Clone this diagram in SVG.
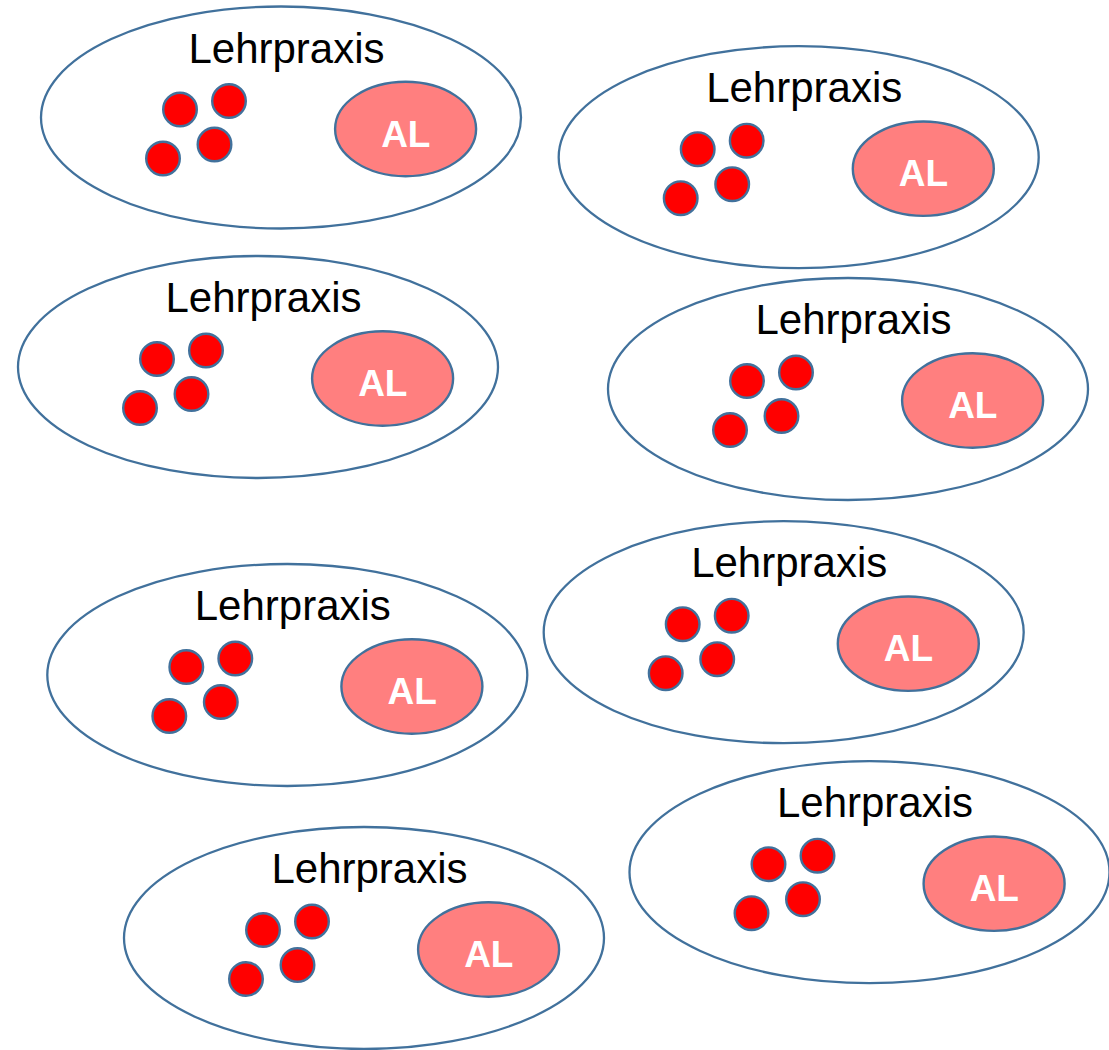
<svg xmlns="http://www.w3.org/2000/svg" width="1109" height="1050" viewBox="0 0 1109 1050">
<style>
.outer{fill:#FFFFFF;stroke:#41719C;stroke-width:2.3}
.dot{fill:#FF0000;stroke:#41719C;stroke-width:2.4}
.al{fill:#FF7F7F;stroke:#41719C;stroke-width:2.4}
.lbl{font-family:"Liberation Sans",Arial,sans-serif;font-size:42px;fill:#000000;text-anchor:middle}
.alt{font-family:"Liberation Sans",Arial,sans-serif;font-size:37px;font-weight:bold;fill:#FFFFFF;text-anchor:middle}
</style>
<rect width="1109" height="1050" fill="#FFFFFF"/>
<g id="connectors"></g>
<g id="node1" transform="translate(281,117.5)">
<ellipse class="outer" cx="0" cy="0" rx="240" ry="111"/>
<text class="lbl" x="5.5" y="-55">Lehrpraxis</text>
<circle class="dot" cx="-101" cy="-8" r="16.8"/>
<circle class="dot" cx="-52" cy="-16.5" r="16.8"/>
<circle class="dot" cx="-66.5" cy="27" r="16.8"/>
<circle class="dot" cx="-118" cy="41" r="16.8"/>
<ellipse class="al" cx="124.6" cy="11.5" rx="70.5" ry="47.2"/>
<text class="alt" x="124.8" y="29">AL</text>
</g>
<g id="node2" transform="translate(798.7,157.2)">
<ellipse class="outer" cx="0" cy="0" rx="240" ry="111"/>
<text class="lbl" x="5.5" y="-55">Lehrpraxis</text>
<circle class="dot" cx="-101" cy="-8" r="16.8"/>
<circle class="dot" cx="-52" cy="-16.5" r="16.8"/>
<circle class="dot" cx="-66.5" cy="27" r="16.8"/>
<circle class="dot" cx="-118" cy="41" r="16.8"/>
<ellipse class="al" cx="124.6" cy="11.5" rx="70.5" ry="47.2"/>
<text class="alt" x="124.8" y="29">AL</text>
</g>
<g id="node3" transform="translate(258,367)">
<ellipse class="outer" cx="0" cy="0" rx="240" ry="111"/>
<text class="lbl" x="5.5" y="-55">Lehrpraxis</text>
<circle class="dot" cx="-101" cy="-8" r="16.8"/>
<circle class="dot" cx="-52" cy="-16.5" r="16.8"/>
<circle class="dot" cx="-66.5" cy="27" r="16.8"/>
<circle class="dot" cx="-118" cy="41" r="16.8"/>
<ellipse class="al" cx="124.6" cy="11.5" rx="70.5" ry="47.2"/>
<text class="alt" x="124.8" y="29">AL</text>
</g>
<g id="node4" transform="translate(848,389)">
<ellipse class="outer" cx="0" cy="0" rx="240" ry="111"/>
<text class="lbl" x="5.5" y="-55">Lehrpraxis</text>
<circle class="dot" cx="-101" cy="-8" r="16.8"/>
<circle class="dot" cx="-52" cy="-16.5" r="16.8"/>
<circle class="dot" cx="-66.5" cy="27" r="16.8"/>
<circle class="dot" cx="-118" cy="41" r="16.8"/>
<ellipse class="al" cx="124.6" cy="11.5" rx="70.5" ry="47.2"/>
<text class="alt" x="124.8" y="29">AL</text>
</g>
<g id="node5" transform="translate(287.3,675)">
<ellipse class="outer" cx="0" cy="0" rx="240" ry="111"/>
<text class="lbl" x="5.5" y="-55">Lehrpraxis</text>
<circle class="dot" cx="-101" cy="-8" r="16.8"/>
<circle class="dot" cx="-52" cy="-16.5" r="16.8"/>
<circle class="dot" cx="-66.5" cy="27" r="16.8"/>
<circle class="dot" cx="-118" cy="41" r="16.8"/>
<ellipse class="al" cx="124.6" cy="11.5" rx="70.5" ry="47.2"/>
<text class="alt" x="124.8" y="29">AL</text>
</g>
<g id="node6" transform="translate(783.7,632.2)">
<ellipse class="outer" cx="0" cy="0" rx="240" ry="111"/>
<text class="lbl" x="5.5" y="-55">Lehrpraxis</text>
<circle class="dot" cx="-101" cy="-8" r="16.8"/>
<circle class="dot" cx="-52" cy="-16.5" r="16.8"/>
<circle class="dot" cx="-66.5" cy="27" r="16.8"/>
<circle class="dot" cx="-118" cy="41" r="16.8"/>
<ellipse class="al" cx="124.6" cy="11.5" rx="70.5" ry="47.2"/>
<text class="alt" x="124.8" y="29">AL</text>
</g>
<g id="node7" transform="translate(869.5,872.2)">
<ellipse class="outer" cx="0" cy="0" rx="240" ry="111"/>
<text class="lbl" x="5.5" y="-55">Lehrpraxis</text>
<circle class="dot" cx="-101" cy="-8" r="16.8"/>
<circle class="dot" cx="-52" cy="-16.5" r="16.8"/>
<circle class="dot" cx="-66.5" cy="27" r="16.8"/>
<circle class="dot" cx="-118" cy="41" r="16.8"/>
<ellipse class="al" cx="124.6" cy="11.5" rx="70.5" ry="47.2"/>
<text class="alt" x="124.8" y="29">AL</text>
</g>
<g id="node8" transform="translate(364,938)">
<ellipse class="outer" cx="0" cy="0" rx="240" ry="111"/>
<text class="lbl" x="5.5" y="-55">Lehrpraxis</text>
<circle class="dot" cx="-101" cy="-8" r="16.8"/>
<circle class="dot" cx="-52" cy="-16.5" r="16.8"/>
<circle class="dot" cx="-66.5" cy="27" r="16.8"/>
<circle class="dot" cx="-118" cy="41" r="16.8"/>
<ellipse class="al" cx="124.6" cy="11.5" rx="70.5" ry="47.2"/>
<text class="alt" x="124.8" y="29">AL</text>
</g>
</svg>
